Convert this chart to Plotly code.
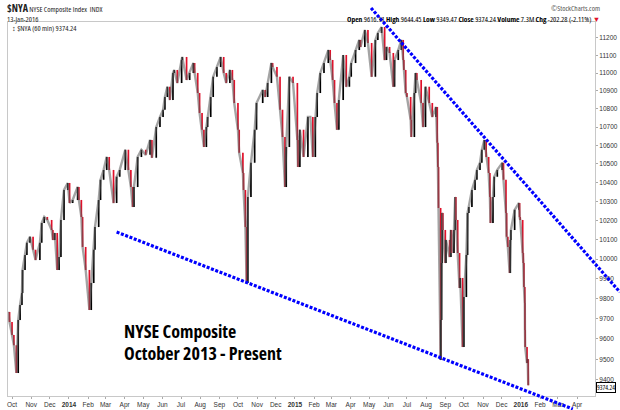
import math
import pandas as pd
import plotly.graph_objects as go

# ---------------- data ----------------
dates = [
    "2013-09-25", "2013-09-27", "2013-10-01", "2013-10-04", "2013-10-08", "2013-10-11", "2013-10-14",
    "2013-10-17", "2013-10-18", "2013-10-22", "2013-10-25", "2013-10-30", "2013-11-04", "2013-11-08",
    "2013-11-15", "2013-11-18", "2013-11-22", "2013-11-27", "2013-12-04", "2013-12-06", "2013-12-09",
    "2013-12-13", "2013-12-16", "2013-12-19", "2013-12-24", "2013-12-30", "2014-01-02", "2014-01-07",
    "2014-01-15", "2014-01-17", "2014-01-21", "2014-01-23", "2014-01-28", "2014-02-03", "2014-02-06",
    "2014-02-10", "2014-02-12", "2014-02-18", "2014-02-21", "2014-02-26", "2014-03-03", "2014-03-07",
    "2014-03-14", "2014-03-19", "2014-03-24", "2014-04-02", "2014-04-07", "2014-04-11", "2014-04-14",
    "2014-04-16", "2014-04-22", "2014-04-28", "2014-05-05", "2014-05-12", "2014-05-15", "2014-05-22",
    "2014-05-28", "2014-06-02", "2014-06-05", "2014-06-09", "2014-06-13", "2014-06-18", "2014-06-20",
    "2014-06-25", "2014-07-02", "2014-07-03", "2014-07-10", "2014-07-15", "2014-07-21", "2014-07-23",
    "2014-07-28", "2014-07-31", "2014-08-04", "2014-08-07", "2014-08-11", "2014-08-13", "2014-08-18",
    "2014-08-22", "2014-08-28", "2014-09-03", "2014-09-08", "2014-09-12", "2014-09-18", "2014-09-22",
    "2014-09-25", "2014-10-01", "2014-10-03", "2014-10-09", "2014-10-10", "2014-10-13", "2014-10-15",
    "2014-10-17", "2014-10-22", "2014-10-28", "2014-10-31", "2014-11-10", "2014-11-14", "2014-11-18",
    "2014-11-24", "2014-11-26", "2014-12-03", "2014-12-08", "2014-12-12", "2014-12-16", "2014-12-18",
    "2014-12-23", "2014-12-29", "2015-01-05", "2015-01-06", "2015-01-09", "2015-01-15", "2015-01-22",
    "2015-01-26", "2015-01-30", "2015-02-03", "2015-02-06", "2015-02-11", "2015-02-17", "2015-02-24",
    "2015-02-27", "2015-03-03", "2015-03-06", "2015-03-10", "2015-03-13", "2015-03-20", "2015-03-25",
    "2015-03-30", "2015-04-02", "2015-04-09", "2015-04-15", "2015-04-17", "2015-04-24", "2015-04-29",
    "2015-05-05", "2015-05-11", "2015-05-15", "2015-05-21", "2015-05-26", "2015-05-29", "2015-06-03",
    "2015-06-09", "2015-06-11", "2015-06-17", "2015-06-22", "2015-06-25", "2015-06-26", "2015-06-29",
    "2015-07-01", "2015-07-07", "2015-07-08", "2015-07-13", "2015-07-15", "2015-07-17", "2015-07-24",
    "2015-07-27", "2015-07-31", "2015-08-06", "2015-08-11", "2015-08-17", "2015-08-19", "2015-08-20",
    "2015-08-21", "2015-08-24 10:00", "2015-08-24 16:00", "2015-08-26", "2015-08-27", "2015-08-28",
    "2015-09-01", "2015-09-02", "2015-09-08", "2015-09-10", "2015-09-11", "2015-09-15", "2015-09-17",
    "2015-09-18", "2015-09-21", "2015-09-24", "2015-09-25", "2015-09-29", "2015-10-01", "2015-10-05",
    "2015-10-07", "2015-10-09", "2015-10-14", "2015-10-19", "2015-10-22", "2015-10-27", "2015-10-30",
    "2015-11-03", "2015-11-06", "2015-11-10", "2015-11-12", "2015-11-13", "2015-11-17", "2015-11-19",
    "2015-11-24", "2015-12-02", "2015-12-04", "2015-12-08", "2015-12-09", "2015-12-11", "2015-12-14",
    "2015-12-15", "2015-12-16", "2015-12-22", "2015-12-29", "2015-12-30", "2015-12-31", "2016-01-04",
    "2016-01-05", "2016-01-06", "2016-01-07 10:00", "2016-01-07 16:00", "2016-01-08", "2016-01-11",
    "2016-01-12", "2016-01-13",
]

closes = [
    9733, 9683, 9619, 9569, 9434, 9693, 9768,
    9828, 9945, 10022, 10084, 10115, 10048, 9996,
    10084, 10187, 10219, 10203, 10151, 10099, 10135,
    9945, 10011, 10203, 10361, 10398, 10292, 10308,
    10377, 10308, 10219, 10063, 9945, 9743, 9879,
    10048, 10166, 10308, 10415, 10468, 10538, 10468,
    10292, 10431, 10468, 10576, 10468, 10377, 10271,
    10377, 10538, 10576, 10549, 10630, 10533, 10700,
    10756, 10795, 10867, 10923, 10850, 11001, 11018,
    10945, 11074, 11091, 10962, 11001, 11057, 11001,
    10889, 10778, 10685, 10592, 10700, 10756, 10867,
    10979, 11035, 11091, 11001, 10945, 11018, 10962,
    10833, 10685, 10560, 10452, 10361, 10166, 9879,
    10324, 10506, 10685, 10833, 10906, 10867, 10945,
    11057, 11035, 10979, 10795, 10646, 10377, 10592,
    10979, 10945, 10630, 10484, 10685, 10538, 10756,
    10756, 10538, 10756, 10889, 11001, 11057, 11131,
    11074, 10962, 10833, 10685, 10850, 11102, 10923,
    10979, 11057, 11131, 11189, 11149, 11246, 11171,
    10979, 11189, 11229, 11263, 11074, 11149, 11114,
    10923, 11074, 11131, 11189, 11074, 11018, 10889,
    10867, 10740, 10646, 10889, 11001, 10962, 10833,
    10700, 10923, 10833, 10756, 10811, 10614, 10484,
    10266, 9497, 9693, 9981, 10240, 10151,
    9981, 10099, 10011, 10151, 10032, 10151, 10324,
    10203, 10032, 9854, 9904, 9560, 9808, 10022,
    10240, 10271, 10361, 10415, 10468, 10506, 10576,
    10630, 10538, 10452, 10324, 10187, 10324, 10431,
    10468, 10506, 10415, 10240, 10115, 10063, 9930,
    10099, 10151, 10256, 10292, 10219, 10203, 10032,
    9981, 9859, 9778, 9644, 9560, 9482,
    9500, 9374.24,
]

# month tick labels
tick_dates = [
    "2013-10-01", "2013-11-01", "2013-12-01", "2014-01-01", "2014-02-01", "2014-03-01", "2014-04-01",
    "2014-05-01", "2014-06-01", "2014-07-01", "2014-08-01", "2014-09-01", "2014-10-01", "2014-11-01",
    "2014-12-01", "2015-01-01", "2015-02-01", "2015-03-01", "2015-04-01", "2015-05-01", "2015-06-01",
    "2015-07-01", "2015-08-01", "2015-09-01", "2015-10-01", "2015-11-01", "2015-12-01", "2016-01-01",
    "2016-02-01", "2016-03-01", "2016-04-01",
]
tick_labels = [
    "Oct", "Nov", "Dec", "<b>2014</b>", "Feb", "Mar", "Apr", "May", "Jun", "Jul", "Aug", "Sep", "Oct",
    "Nov", "Dec", "<b>2015</b>", "Feb", "Mar", "Apr", "May", "Jun", "Jul", "Aug", "Sep", "Oct", "Nov",
    "Dec", "<b>2016</b>", "Feb", "Mar", "Apr",
]
y_ticks = [9400, 9500, 9600, 9700, 9800, 9900, 10000, 10100, 10200, 10300,
           10400, 10500, 10600, 10700, 10800, 10900, 11000, 11100, 11200]

# trend lines (date, value) endpoints
upper_dates = ["2015-05-04", "2016-06-09"]
upper_vals = [11373, 9833]
lower_dates = ["2014-03-19", "2016-03-25"]
lower_vals = [10140, 9261]

last_close = 9374.24

# ---------------- figure ----------------
X_RANGE = ["2013-09-24 12:00", "2016-04-29 20:00"]
Y_RANGE_V = [9323, 11292]
Y0, Y1 = math.log10(Y_RANGE_V[0]), math.log10(Y_RANGE_V[1])
X0, X1 = pd.Timestamp(X_RANGE[0]), pd.Timestamp(X_RANGE[1])


def xp(d):
    return (pd.Timestamp(d) - X0) / (X1 - X0)


def yp(v):
    return (math.log10(v) - Y0) / (Y1 - Y0)


opens = [closes[0]] + closes[:-1]
highs = [max(o, c) for o, c in zip(opens, closes)]
lows = [min(o, c) for o, c in zip(opens, closes)]

fig = go.Figure()
fig.add_trace(go.Scatter(
    x=dates, y=closes, mode="lines",
    line=dict(color="rgba(90,90,90,0.55)", width=2.4),
    hoverinfo="skip", showlegend=False,
))
fig.add_trace(go.Ohlc(
    x=dates, open=opens, high=highs, low=lows, close=closes,
    increasing=dict(line=dict(color="#000000", width=1.7)),
    decreasing=dict(line=dict(color="#e0102a", width=1.7)),
    showlegend=False,
))

# trend lines (not clipped, extend past the frame as in the reference)
for ds, vs in ((upper_dates, upper_vals), (lower_dates, lower_vals)):
    fig.add_shape(type="line", xref="paper", yref="paper",
                  x0=xp(ds[0]), y0=yp(vs[0]), x1=xp(ds[1]), y1=yp(vs[1]),
                  line=dict(color="#0000ff", width=3.2, dash="3px,1.6px"))

small = "Liberation Sans, Arial, sans-serif"
cond = "Open Sans, Liberation Sans, sans-serif"


def narrow(s):
    return "<span style='font-stretch:75%'>" + s + "</span>"


anns = [
    dict(x=-0.005, y=1.037, xref="paper", yref="paper", xanchor="left", yanchor="middle",
         text=narrow("<span style='font-size:10px'><b>$NYA</b></span> NYSE Composite Index  INDX"),
         font=dict(size=7.5, family=cond, color="#222")),
    dict(x=-0.005, y=1.008, xref="paper", yref="paper", xanchor="left", yanchor="middle",
         text=narrow("13-Jan-2016"), font=dict(size=7.5, family=cond, color="#222")),
    dict(x=1.012, y=1.037, xref="paper", yref="paper", xanchor="right", yanchor="middle",
         text=narrow("©StockCharts.com"), font=dict(size=7.5, family=cond, color="#555")),
    dict(x=1.012, y=1.008, xref="paper", yref="paper", xanchor="right", yanchor="middle",
         text=narrow("<b>Open</b> 9616.11 <b>High</b> 9644.45 <b>Low</b> 9349.47 <b>Close</b> 9374.24 "
                     "<b>Volume</b> 7.3M <b>Chg</b> -202.28 (-2.11%) <span style='fill:#e0102a'>▼</span>"),
         font=dict(size=7.5, family=cond, color="#000")),
    dict(x=0.004, y=0.985, xref="paper", yref="paper", xanchor="left", yanchor="middle",
         text=narrow("\u2195 $NYA (60 min) 9374.24"), font=dict(size=7.5, family=cond, color="#222")),
    dict(x=1.0, y=math.log10(last_close), xref="paper", yref="y", xanchor="left", yanchor="middle",
         text=narrow("9374.24"), font=dict(size=6.5, family=cond, color="#000"),
         bgcolor="#ffffff", bordercolor="#000000", borderwidth=1, borderpad=0, xshift=1, yshift=-2),
    dict(x=0.194, y=0.174, xref="paper", yref="paper", xanchor="left", yanchor="middle",
         text=narrow("<b>NYSE Composite</b>"),
         font=dict(size=18, family=cond, color="#000")),
    dict(x=0.194, y=0.115, xref="paper", yref="paper", xanchor="left", yanchor="middle",
         text=narrow("<b>October 2013 - Present</b>"),
         font=dict(size=18, family=cond, color="#000")),
]
for a in anns:
    a["showarrow"] = False
    fig.add_annotation(**a)

fig.update_layout(
    width=620, height=410,
    margin=dict(l=8, r=25, t=22, b=14, autoexpand=False),
    paper_bgcolor="#ffffff", plot_bgcolor="#ffffff",
    showlegend=False,
    font=dict(family=small, size=6.5, color="#333"),
)
fig.update_xaxes(
    type="date", range=X_RANGE, rangeslider_visible=False, automargin=False,
    tickmode="array", tickvals=tick_dates, ticktext=tick_labels,
    tickfont=dict(size=6.5, family=small, color="#333"),
    ticks="outside", ticklen=2, tickcolor="#aaa",
    showgrid=False, zeroline=False,
    showline=True, linecolor="#c8c8c8", linewidth=1, mirror=True,
)
fig.update_yaxes(
    type="log", range=[Y0, Y1], side="right", automargin=False,
    tickmode="array", tickvals=y_ticks, ticktext=[str(v) for v in y_ticks],
    tickfont=dict(size=6.5, family=small, color="#333"),
    ticks="outside", ticklen=2, tickcolor="#aaa",
    showgrid=False, zeroline=False,
    showline=True, linecolor="#c8c8c8", linewidth=1, mirror=True,
)

fig.write_html("out.html", config=dict(displayModeBar=False),
               post_script="document.body.style.margin='0';document.body.style.padding='0';")
